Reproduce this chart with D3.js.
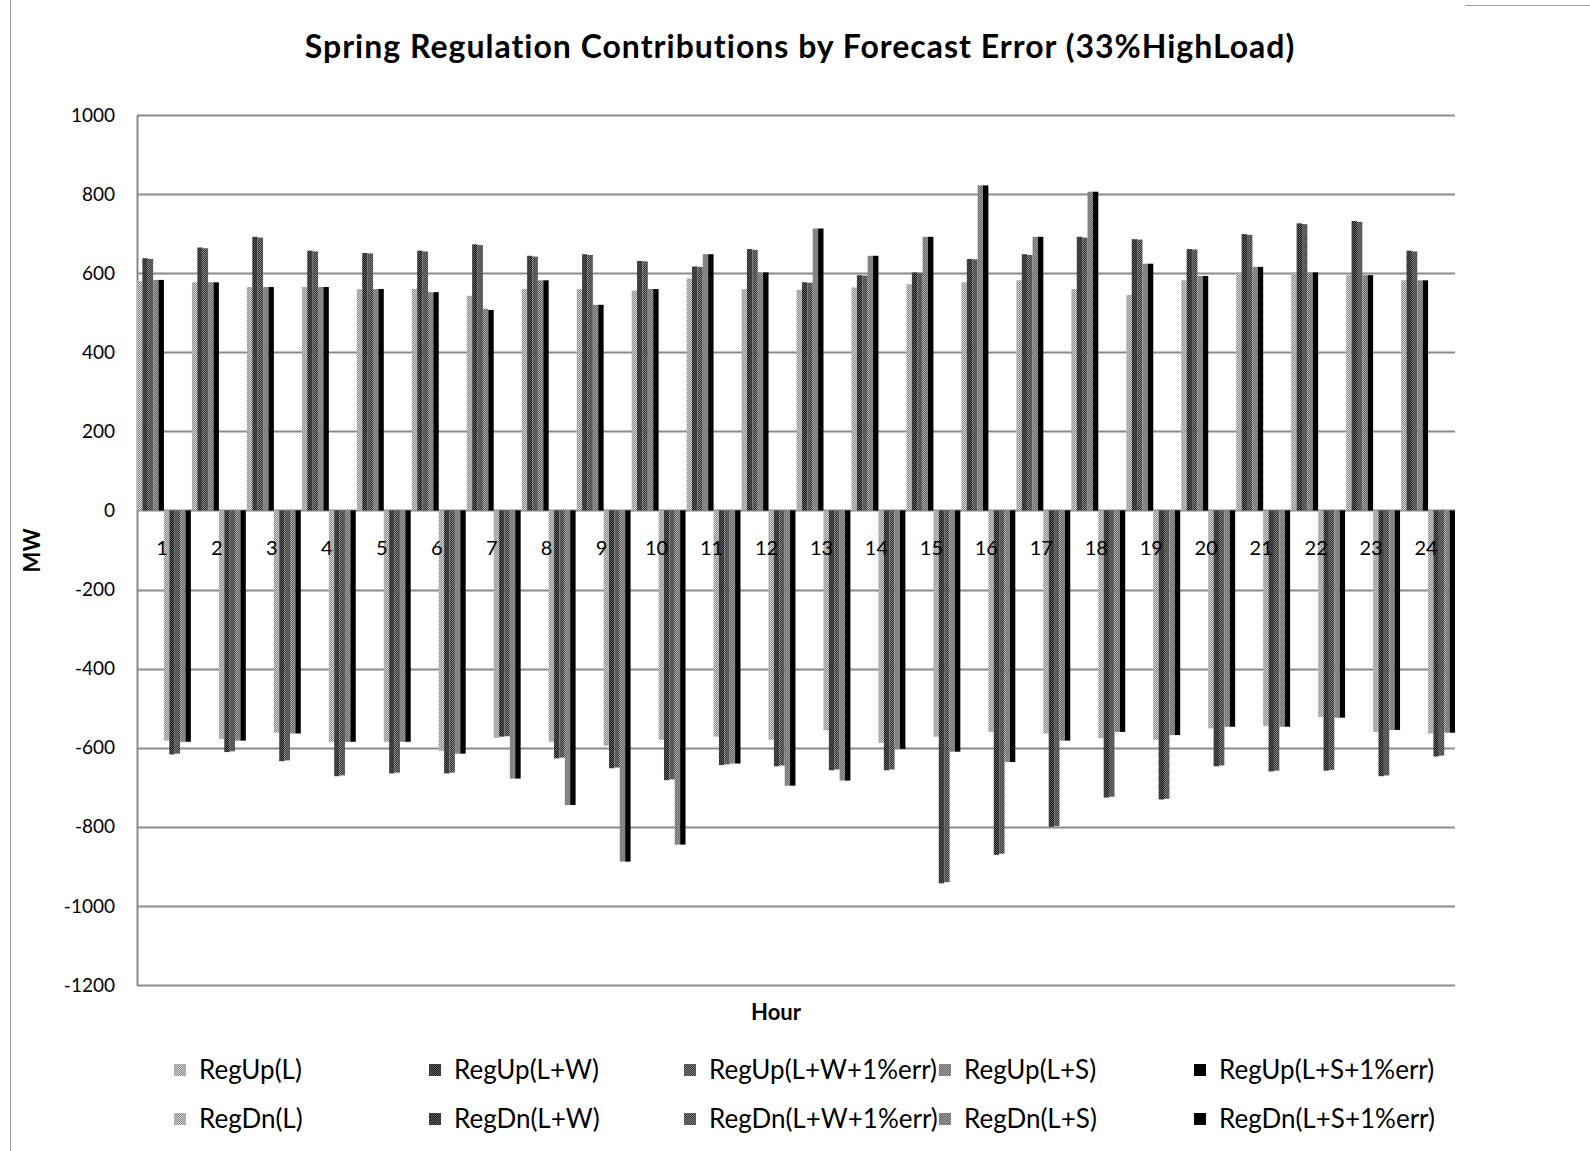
<!DOCTYPE html>
<html>
<head>
<meta charset="utf-8">
<script src="https://cdn.jsdelivr.net/npm/d3@7"></script>
<style>
  html, body { margin: 0; padding: 0; background: #fff; }
  svg { display: block; font-family: Lato, "Open Sans", sans-serif; }
</style>
</head>
<body>
<svg id="chart"></svg>
<script>
// categories
const hours = ['1','2','3','4','5','6','7','8','9','10','11','12','13','14','15','16','17','18','19','20','21','22','23','24'];

// series values (MW)
const regUpL    = [580, 577, 565, 565, 560, 560, 543, 560, 560, 556, 587, 560, 558, 564, 572, 577, 582, 560, 545, 582, 602, 602, 595, 582];
const regUpLW   = [638, 665, 692, 657, 651, 657, 673, 644, 648, 631, 617, 661, 577, 595, 602, 636, 648, 692, 686, 661, 699, 726, 732, 657];
const regUpLW1  = [636, 663, 690, 655, 650, 655, 671, 642, 646, 630, 616, 659, 576, 594, 601, 635, 646, 690, 685, 660, 697, 724, 730, 655];
const regUpLS   = [583, 577, 565, 565, 560, 552, 510, 582, 520, 560, 648, 602, 713, 644, 692, 822, 692, 806, 624, 593, 616, 602, 595, 582];
const regUpLS1  = [583, 577, 565, 565, 560, 552, 507, 582, 520, 560, 648, 602, 713, 644, 692, 822, 692, 806, 624, 593, 616, 602, 595, 582];
const regDnL    = [-582, -578, -562, -585, -585, -608, -575, -585, -595, -580, -572, -580, -556, -588, -572, -560, -564, -576, -580, -551, -545, -522, -560, -564];
const regDnLW   = [-617, -611, -634, -672, -665, -665, -572, -627, -652, -682, -644, -647, -657, -657, -943, -871, -800, -726, -731, -647, -660, -658, -672, -622];
const regDnLW1  = [-615, -609, -632, -670, -663, -663, -571, -625, -650, -680, -642, -645, -655, -655, -940, -868, -798, -724, -729, -645, -658, -656, -670, -620];
const regDnLS   = [-585, -582, -564, -585, -585, -615, -678, -745, -888, -845, -640, -696, -683, -603, -610, -636, -582, -560, -568, -547, -547, -524, -555, -562];
const regDnLS1  = [-585, -582, -564, -585, -585, -615, -678, -745, -888, -845, -640, -696, -683, -603, -610, -636, -582, -560, -568, -547, -547, -524, -555, -562];

const seriesNames = ['RegUp(L)', 'RegUp(L+W)', 'RegUp(L+W+1%err)', 'RegUp(L+S)', 'RegUp(L+S+1%err)',
                     'RegDn(L)', 'RegDn(L+W)', 'RegDn(L+W+1%err)', 'RegDn(L+S)', 'RegDn(L+S+1%err)'];
const seriesValues = [regUpL, regUpLW, regUpLW1, regUpLS, regUpLS1, regDnL, regDnLW, regDnLW1, regDnLS, regDnLS1];

// y ticks
const yTicks = [1000, 800, 600, 400, 200, 0, -200, -400, -600, -800, -1000, -1200];

const chartTitle = 'Spring Regulation Contributions  by Forecast Error (33%HighLoad)';

const W = 1590, H = 1151;
const margin = { top: 115, right: 135, bottom: 166, left: 137 };

const svg = d3.select('#chart').attr('width', W).attr('height', H);

// dithered fills, one per tone (the original is a greyscale scan)
const tones = [
  { id: 'toneL',   a: '#8c8c8c', b: '#d0d0d0' },
  { id: 'toneLW',  a: '#1e1e1e', b: '#5e5e5e' },
  { id: 'toneLW1', a: '#3c3c3c', b: '#7a7a7a' },
  { id: 'toneLS',  a: '#6c6c6c', b: '#9c9c9c' },
  { id: 'toneLS1', a: '#000000', b: '#000000' }
];
const defs = svg.append('defs');
tones.forEach(t => {
  const p = defs.append('pattern')
    .attr('id', t.id)
    .attr('width', 2).attr('height', 2)
    .attr('patternUnits', 'userSpaceOnUse');
  p.append('rect').attr('width', 2).attr('height', 2).attr('fill', t.a);
  p.append('rect').attr('width', 1).attr('height', 1).attr('fill', t.b);
  p.append('rect').attr('x', 1).attr('y', 1).attr('width', 1).attr('height', 1).attr('fill', t.b);
});
const fillFor = i => `url(#${tones[i % 5].id})`;

// what is left of the outer frame in the scan
svg.append('line')
  .attr('x1', 10.5).attr('x2', 10.5)
  .attr('y1', 0).attr('y2', H)
  .attr('stroke', '#a0a0a0');
svg.append('line')
  .attr('x1', 1465).attr('x2', W)
  .attr('y1', 5.5).attr('y2', 5.5)
  .attr('stroke', '#a0a0a0');

const x0 = d3.scaleBand()
  .domain(hours)
  .range([margin.left, W - margin.right])
  .paddingInner(0.02)
  .paddingOuter(0.0);

const x1 = d3.scaleBand()
  .domain(d3.range(seriesNames.length))
  .range([0, x0.bandwidth()])
  .padding(0);

const y = d3.scaleLinear()
  .domain([-1200, 1000])
  .range([H - margin.bottom, margin.top]);

// gridlines
svg.append('g')
  .selectAll('line')
  .data(yTicks)
  .join('line')
  .attr('x1', margin.left)
  .attr('x2', W - margin.right)
  .attr('y1', d => Math.round(y(d)) + 0.5)
  .attr('y2', d => Math.round(y(d)) + 0.5)
  .attr('stroke', '#8a8a8a')
  .attr('stroke-width', 2);

// y axis
const yAxis = d3.axisLeft(y)
  .tickValues(yTicks)
  .tickFormat(d => String(d))
  .tickSize(0)
  .tickPadding(22);
svg.append('g')
  .attr('transform', `translate(${margin.left},0)`)
  .call(yAxis)
  .call(g => g.select('.domain').attr('stroke', '#8a8a8a').attr('stroke-width', 2))
  .selectAll('text')
  .attr('font-size', 19)
  .attr('font-family', 'Lato, "Open Sans", sans-serif')
  .attr('fill', '#000');

// bars
const barData = [];
hours.forEach((h, hi) => {
  seriesValues.forEach((vals, si) => {
    barData.push({ hour: h, s: si, value: vals[hi] });
  });
});

svg.append('g')
  .selectAll('rect')
  .data(barData)
  .join('rect')
  .attr('x', d => x0(d.hour) + x1(d.s))
  .attr('width', x1.bandwidth())
  .attr('y', d => Math.min(y(0), y(d.value)))
  .attr('height', d => Math.abs(y(d.value) - y(0)))
  .attr('fill', d => fillFor(d.s));

// category labels sit just under the zero line
svg.append('g')
  .selectAll('text')
  .data(hours)
  .join('text')
  .attr('x', d => x0(d) + x0.bandwidth() / 2 - 2)
  .attr('y', y(0) + 45)
  .attr('text-anchor', 'middle')
  .attr('font-size', 20)
  .attr('fill', '#000')
  .text(d => d);

// title
svg.append('text')
  .attr('x', 800)
  .attr('y', 58)
  .attr('text-anchor', 'middle')
  .attr('font-size', 32)
  .attr('font-weight', 'bold')
  .attr('letter-spacing', 1)
  .attr('fill', '#000')
  .text(chartTitle);

// axis titles
svg.append('text')
  .attr('transform', `translate(40,${y(0) + 40}) rotate(-90)`)
  .attr('text-anchor', 'middle')
  .attr('font-size', 22)
  .attr('font-weight', 'bold')
  .text('MW');

svg.append('text')
  .attr('x', 776)
  .attr('y', 1020)
  .attr('text-anchor', 'middle')
  .attr('font-size', 22)
  .attr('font-weight', 'bold')
  .text('Hour');

// legend: two rows of five
const legend = svg.append('g');
const legendItems = legend.selectAll('g')
  .data(seriesNames)
  .join('g')
  .attr('transform', (d, i) => `translate(${174 + (i % 5) * 255},${i < 5 ? 1070 : 1119})`);

legendItems.append('rect')
  .attr('x', 0).attr('y', -6)
  .attr('width', 12).attr('height', 12)
  .attr('fill', (d, i) => fillFor(i));

legendItems.append('text')
  .attr('x', 25)
  .attr('y', 9)
  .attr('font-size', 26)
  .attr('fill', '#000')
  .text(d => d);
</script>
</body>
</html>
